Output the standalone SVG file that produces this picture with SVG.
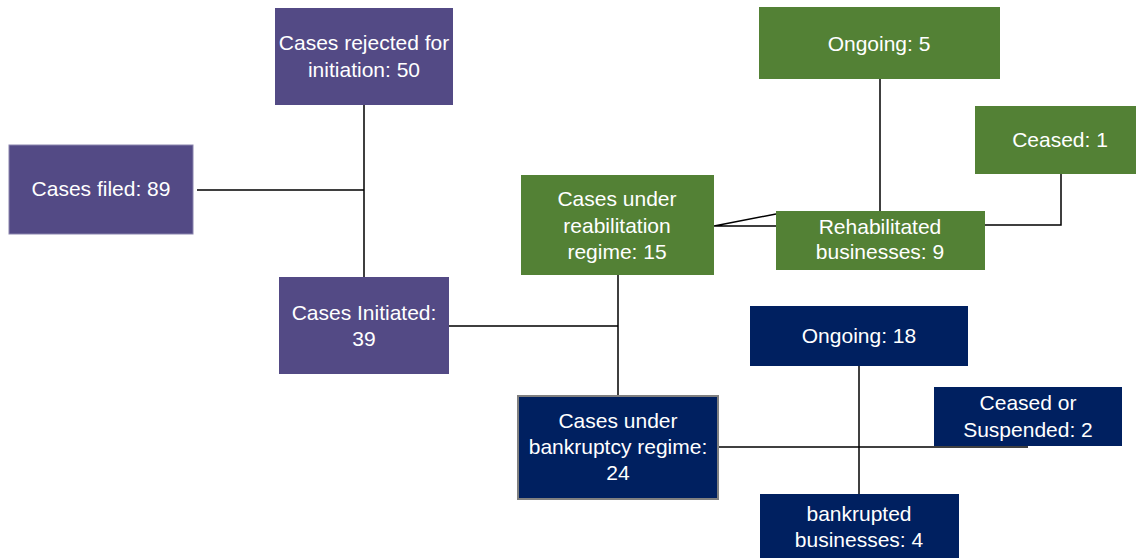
<svg xmlns="http://www.w3.org/2000/svg" width="1136" height="558" viewBox="0 0 1136 558">
<style>
.p{fill:#534a85}
.g{fill:#538135}
.n{fill:#002060}
text{font-family:"Liberation Sans",Arial,sans-serif;font-size:21px;fill:#ffffff;text-anchor:middle}
.c{stroke:#000;stroke-width:1.5;fill:none}
</style>
<rect width="1136" height="558" fill="#ffffff"/>
<g id="connectors">
<path class="c" d="M197 190H364M364 105V277"/>
<path class="c" d="M449 326H618M618 275V395"/>
<path class="c" d="M714 226H776M714 226L776 214"/>
<path class="c" d="M880 79V211"/>
<path class="c" d="M1061 174V225H985"/>
<path class="c" d="M719 447H1028"/>
<path class="c" d="M859 366V494"/>
</g>
<g id="filed"><rect class="p" x="9" y="145" width="184" height="89" stroke="#8a84ad" stroke-width="1"/><text x="101" y="196">Cases filed: 89</text></g>
<g id="rejected"><rect class="p" x="275" y="8" width="178" height="97"/><text x="364" y="50">Cases rejected for</text><text x="364" y="77">initiation: 50</text></g>
<g id="initiated"><rect class="p" x="279" y="277" width="170" height="97"/><text x="364" y="320">Cases Initiated:</text><text x="364" y="346">39</text></g>
<g id="reab"><rect class="g" x="521" y="175" width="193" height="100"/><text x="617" y="206">Cases under</text><text x="617" y="233">reabilitation</text><text x="617" y="259">regime: 15</text></g>
<g id="ongoing5"><rect class="g" x="759" y="7" width="241" height="72"/><text x="879" y="51">Ongoing: 5</text></g>
<g id="ceased1"><rect class="g" x="975" y="106" width="161" height="68"/><text x="1060" y="147">Ceased: 1</text></g>
<g id="rehab"><rect class="g" x="776" y="211" width="209" height="59"/><text x="880" y="234">Rehabilitated</text><text x="880" y="259">businesses: 9</text></g>
<g id="bankruptcy"><rect class="n" x="518" y="396" width="200" height="103" stroke="#808080" stroke-width="2"/><text x="618" y="428">Cases under</text><text x="618" y="454">bankruptcy regime:</text><text x="618" y="480">24</text></g>
<g id="ongoing18"><rect class="n" x="750" y="306" width="218" height="60"/><text x="859" y="343">Ongoing: 18</text></g>
<g id="ceased2"><rect class="n" x="934" y="387" width="188" height="59"/><text x="1028" y="410">Ceased or</text><text x="1028" y="437">Suspended: 2</text></g>
<g id="bankrupted"><rect class="n" x="760" y="494" width="199" height="64"/><text x="859" y="521">bankrupted</text><text x="859" y="547">businesses: 4</text></g>
</svg>
